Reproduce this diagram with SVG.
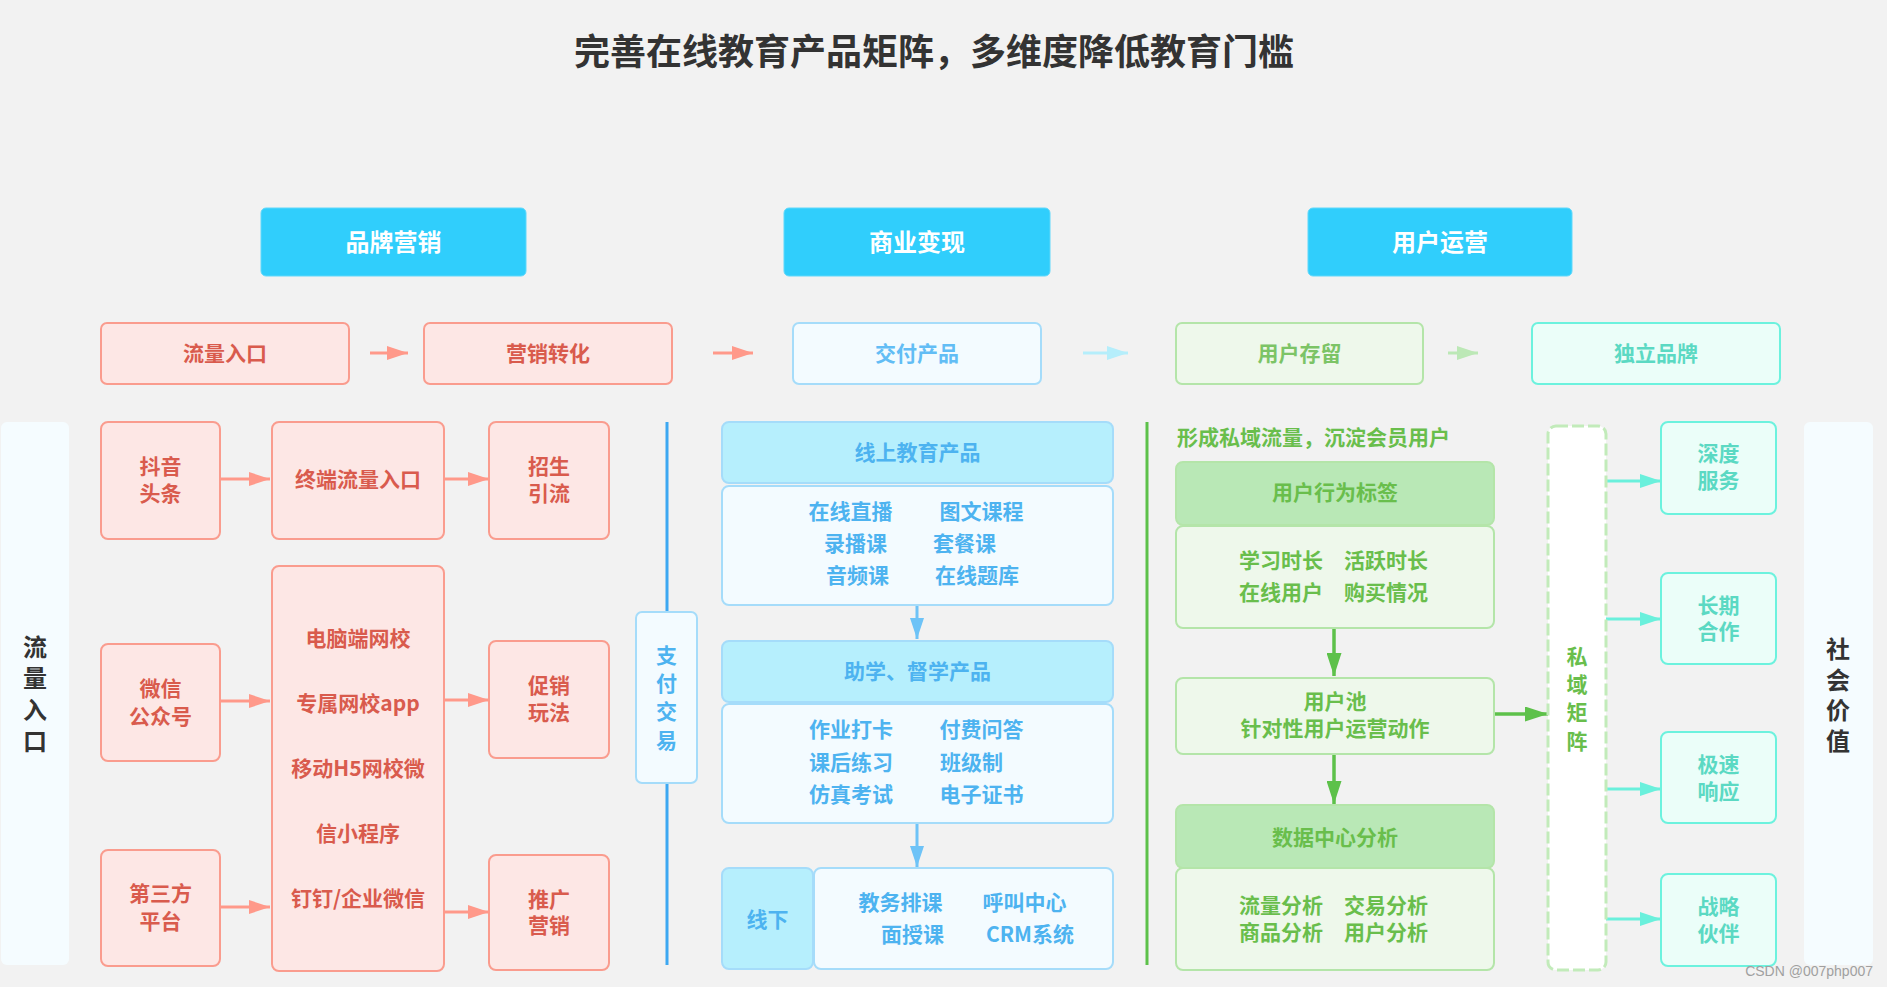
<svg xmlns="http://www.w3.org/2000/svg" width="1887" height="987" viewBox="0 0 1887 987">
<style>
text{font-family:"Noto Sans CJK SC","Noto Sans",sans-serif;font-weight:bold;text-anchor:middle;dominant-baseline:central;transform:translateY(-2px)}
.title{font-size:36px;fill:#333333}
.hdr rect{fill:#30CEFC;stroke:#5FD8FB;stroke-width:1}
.hdr text{font-size:24px;fill:#ffffff}
.r2 text{font-size:22px}
.sal rect{fill:#FDE7E5;stroke:#FA9C8E;stroke-width:2}
.sal text{fill:#D95B4D;font-size:21px}
.blu rect{fill:#F3FBFF;stroke:#A5DCFA;stroke-width:2}
.blu text{fill:#4DB3F0;font-size:21px}
.blu rect.h{fill:#B6EFFD}
.grn rect{fill:#EEF8EB;stroke:#B4E5A9;stroke-width:2}
.grn text{fill:#69BE4C;font-size:21px}
.grn rect.h{fill:#B9E8B6}
.tea rect{fill:#EBFEF9;stroke:#6CF2DE;stroke-width:2}
.tea text{fill:#5BD9C3;font-size:21px}
.side rect{fill:#F5FCFF}
.side text{fill:#333333;font-size:24px}
.lt{text-anchor:start}
.v22{font-size:22px}
</style>
<defs>
<marker id="aSal" viewBox="0 0 21 14" refX="21" refY="7" markerWidth="21" markerHeight="14" markerUnits="userSpaceOnUse" orient="auto"><path d="M0,0L21,7L0,14z" fill="#FF998A"/></marker>
<marker id="aCy" viewBox="0 0 21 14" refX="21" refY="7" markerWidth="21" markerHeight="14" markerUnits="userSpaceOnUse" orient="auto"><path d="M0,0L21,7L0,14z" fill="#B5EEFB"/></marker>
<marker id="aLg" viewBox="0 0 21 14" refX="21" refY="7" markerWidth="21" markerHeight="14" markerUnits="userSpaceOnUse" orient="auto"><path d="M0,0L21,7L0,14z" fill="#BCE8B6"/></marker>
<marker id="aBl" viewBox="0 0 21 14" refX="21" refY="7" markerWidth="21" markerHeight="14" markerUnits="userSpaceOnUse" orient="auto"><path d="M0,0L21,7L0,14z" fill="#6EC3F7"/></marker>
<marker id="aGr" viewBox="0 0 23 15" refX="23" refY="7.5" markerWidth="23" markerHeight="15" markerUnits="userSpaceOnUse" orient="auto"><path d="M0,0L23,7.5L0,15z" fill="#5DC14A"/></marker>
<marker id="aTe" viewBox="0 0 21 14" refX="21" refY="7" markerWidth="21" markerHeight="14" markerUnits="userSpaceOnUse" orient="auto"><path d="M0,0L21,7L0,14z" fill="#6AF0DC"/></marker>
</defs>
<rect x="0" y="0" width="1887" height="987" fill="#F2F2F2"/>
<text class="title" x="934" y="51">完善在线教育产品矩阵，多维度降低教育门槛</text>

<g id="h1" class="hdr"><rect x="261" y="208" width="265" height="68" rx="5"/><text x="393.5" y="242">品牌营销</text></g>
<g id="h2" class="hdr"><rect x="784" y="208" width="266" height="68" rx="5"/><text x="917" y="242">商业变现</text></g>
<g id="h3" class="hdr"><rect x="1308" y="208" width="264" height="68" rx="5"/><text x="1440" y="242">用户运营</text></g>

<g id="s1" class="sal r2"><rect x="101" y="323" width="248" height="61" rx="6"/><text x="225" y="353.5">流量入口</text></g>
<g id="s2" class="sal r2"><rect x="424" y="323" width="248" height="61" rx="6"/><text x="548" y="353.5">营销转化</text></g>
<g id="s3" class="blu r2"><rect x="793" y="323" width="248" height="61" rx="6"/><text x="917" y="353.5" style="fill:#62BDF5">交付产品</text></g>
<g id="s4" class="grn r2"><rect x="1176" y="323" width="247" height="61" rx="6"/><text x="1299.5" y="353.5" style="fill:#7CC466">用户存留</text></g>
<g id="s5" class="tea r2"><rect x="1532" y="323" width="248" height="61" rx="6"/><text x="1656" y="353.5">独立品牌</text></g>

<g id="p1" class="side"><rect x="1" y="422" width="68" height="543" rx="6"/><text><tspan x="35" y="647">流</tspan><tspan x="35" y="678">量</tspan><tspan x="35" y="710">入</tspan><tspan x="35" y="741">口</tspan></text></g>
<g id="p2" class="side"><rect x="1804" y="422" width="69" height="543" rx="6"/><text><tspan x="1838" y="649">社</tspan><tspan x="1838" y="680">会</tspan><tspan x="1838" y="710">价</tspan><tspan x="1838" y="741">值</tspan></text></g>

<g id="n1" class="sal"><rect x="101" y="422" width="119" height="117" rx="7"/><text><tspan x="160.5" y="467">抖音</tspan><tspan x="160.5" y="494">头条</tspan></text></g>
<g id="n2" class="sal"><rect x="272" y="422" width="172" height="117" rx="7"/><text x="358" y="480">终端流量入口</text></g>
<g id="n3" class="sal"><rect x="489" y="422" width="120" height="117" rx="7"/><text><tspan x="549" y="467">招生</tspan><tspan x="549" y="494">引流</tspan></text></g>
<g id="n4" class="sal"><rect x="101" y="644" width="119" height="117" rx="7"/><text><tspan x="160.5" y="689">微信</tspan><tspan x="160.5" y="717">公众号</tspan></text></g>
<g id="n5" class="sal"><rect x="272" y="566" width="172" height="405" rx="7"/><text x="358" y="639">电脑端网校</text><text x="358" y="704">专属网校app</text><text x="358" y="769">移动H5网校微</text><text x="358" y="834">信小程序</text><text x="358" y="899">钉钉/企业微信</text></g>
<g id="n6" class="sal"><rect x="489" y="641" width="120" height="117" rx="7"/><text><tspan x="549" y="686">促销</tspan><tspan x="549" y="713">玩法</tspan></text></g>
<g id="n7" class="sal"><rect x="101" y="850" width="119" height="116" rx="7"/><text><tspan x="160.5" y="894">第三方</tspan><tspan x="160.5" y="922">平台</tspan></text></g>
<g id="n8" class="sal"><rect x="489" y="855" width="120" height="115" rx="7"/><text><tspan x="549" y="900">推广</tspan><tspan x="549" y="926">营销</tspan></text></g>

<g id="connectors" fill="none">
<g stroke="#FF998A" stroke-width="3" marker-end="url(#aSal)">
<line x1="370" y1="353" x2="408" y2="353"/>
<line x1="713" y1="353" x2="753" y2="353"/>
<line x1="220" y1="479" x2="270" y2="479"/>
<line x1="444" y1="479" x2="489" y2="479"/>
<line x1="220" y1="701" x2="270" y2="701"/>
<line x1="444" y1="700" x2="489" y2="700"/>
<line x1="220" y1="907" x2="270" y2="907"/>
<line x1="444" y1="912" x2="489" y2="912"/>
</g>
<line x1="1083" y1="353" x2="1128" y2="353" stroke="#B5EEFB" stroke-width="3" marker-end="url(#aCy)"/>
<line x1="1448" y1="353" x2="1478" y2="353" stroke="#BCE8B6" stroke-width="3" marker-end="url(#aLg)"/>
<g stroke="#6EC3F7" stroke-width="3" marker-end="url(#aBl)">
<line x1="917" y1="605" x2="917" y2="639"/>
<line x1="917" y1="823" x2="917" y2="867"/>
</g>
<g stroke="#5DC14A" stroke-width="3.5" marker-end="url(#aGr)">
<line x1="1334" y1="628" x2="1334" y2="676"/>
<line x1="1334" y1="754" x2="1334" y2="804"/>
<line x1="1494" y1="714" x2="1548" y2="714"/>
</g>
<g stroke="#6AF0DC" stroke-width="3" marker-end="url(#aTe)">
<line x1="1606" y1="481" x2="1661" y2="481"/>
<line x1="1606" y1="619" x2="1661" y2="619"/>
<line x1="1606" y1="789" x2="1661" y2="789"/>
<line x1="1606" y1="919" x2="1661" y2="919"/>
</g>
<line x1="667" y1="422" x2="667" y2="965" stroke="#3DA8F2" stroke-width="3"/>
<line x1="1147" y1="422" x2="1147" y2="965" stroke="#5DC14A" stroke-width="3"/>
</g>

<g id="pay" class="blu"><rect x="636" y="612" width="61" height="171" rx="6"/><text class="v22"><tspan x="666.5" y="656">支</tspan><tspan x="666.5" y="684">付</tspan><tspan x="666.5" y="712">交</tspan><tspan x="666.5" y="741">易</tspan></text></g>

<g id="b1" class="blu"><rect class="h" x="722" y="422" width="391" height="61" rx="7"/><text x="917.5" y="452.5">线上教育产品</text></g>
<g id="b1b" class="blu"><rect x="722" y="486" width="391" height="119" rx="7"/>
<text x="850.5" y="512">在线直播</text><text x="981.5" y="512">图文课程</text>
<text x="855.5" y="544">录播课</text><text x="964.5" y="544">套餐课</text>
<text x="857.5" y="576">音频课</text><text x="977" y="576">在线题库</text></g>
<g id="b2" class="blu"><rect class="h" x="722" y="641" width="391" height="61" rx="7"/><text x="917.5" y="672">助学、督学产品</text></g>
<g id="b2b" class="blu"><rect x="722" y="704" width="391" height="119" rx="7"/>
<text x="851" y="730">作业打卡</text><text x="981.5" y="730">付费问答</text>
<text x="851" y="763">课后练习</text><text x="971.5" y="763">班级制</text>
<text x="851" y="795">仿真考试</text><text x="981.5" y="795">电子证书</text></g>
<g id="b3" class="blu"><rect class="h" x="722" y="868" width="91" height="101" rx="7"/><text x="767.5" y="920">线下</text></g>
<g id="b3b" class="blu"><rect x="814" y="868" width="299" height="101" rx="7"/>
<text x="900.5" y="903">教务排课</text><text x="1024.5" y="903">呼叫中心</text>
<text x="912.5" y="935">面授课</text><text x="1030" y="935">CRM系统</text></g>

<g id="g0" class="grn"><text class="lt" x="1177" y="438">形成私域流量，沉淀会员用户</text></g>
<g id="g1" class="grn"><rect class="h" x="1176" y="462" width="318" height="63" rx="7"/><text x="1335" y="493">用户行为标签</text></g>
<g id="g1b" class="grn"><rect x="1176" y="526" width="318" height="102" rx="7"/>
<text x="1281" y="561">学习时长</text><text x="1386" y="561">活跃时长</text>
<text x="1281" y="593">在线用户</text><text x="1386" y="593">购买情况</text></g>
<g id="g2" class="grn"><rect x="1176" y="678" width="318" height="76" rx="7"/><text><tspan x="1335" y="702">用户池</tspan><tspan x="1335" y="729">针对性用户运营动作</tspan></text></g>
<g id="g3" class="grn"><rect class="h" x="1176" y="805" width="318" height="63" rx="7"/><text x="1335" y="838">数据中心分析</text></g>
<g id="g3b" class="grn"><rect x="1176" y="868" width="318" height="102" rx="7"/>
<text x="1281" y="906">流量分析</text><text x="1386" y="906">交易分析</text>
<text x="1281" y="933">商品分析</text><text x="1386" y="933">用户分析</text></g>

<g id="pm" class="grn"><rect x="1548" y="426" width="58" height="544" rx="8" style="fill:#ffffff;stroke:#C2EBBA;stroke-width:3;stroke-dasharray:12 4"/>
<text class="v22"><tspan x="1577" y="657">私</tspan><tspan x="1577" y="685">域</tspan><tspan x="1577" y="713">矩</tspan><tspan x="1577" y="742">阵</tspan></text></g>

<g id="t1" class="tea"><rect x="1661" y="422" width="115" height="92" rx="7"/><text><tspan x="1718.5" y="454">深度</tspan><tspan x="1718.5" y="481">服务</tspan></text></g>
<g id="t2" class="tea"><rect x="1661" y="573" width="115" height="91" rx="7"/><text><tspan x="1718.5" y="606">长期</tspan><tspan x="1718.5" y="632">合作</tspan></text></g>
<g id="t3" class="tea"><rect x="1661" y="732" width="115" height="91" rx="7"/><text><tspan x="1718.5" y="765">极速</tspan><tspan x="1718.5" y="792">响应</tspan></text></g>
<g id="t4" class="tea"><rect x="1661" y="874" width="115" height="92" rx="7"/><text><tspan x="1718.5" y="907">战略</tspan><tspan x="1718.5" y="934">伙伴</tspan></text></g>

<text x="1873" y="973" style="font-family:'Liberation Sans',sans-serif;font-weight:normal;font-size:14px;fill:#A0A0A0;text-anchor:end">CSDN @007php007</text>
</svg>
